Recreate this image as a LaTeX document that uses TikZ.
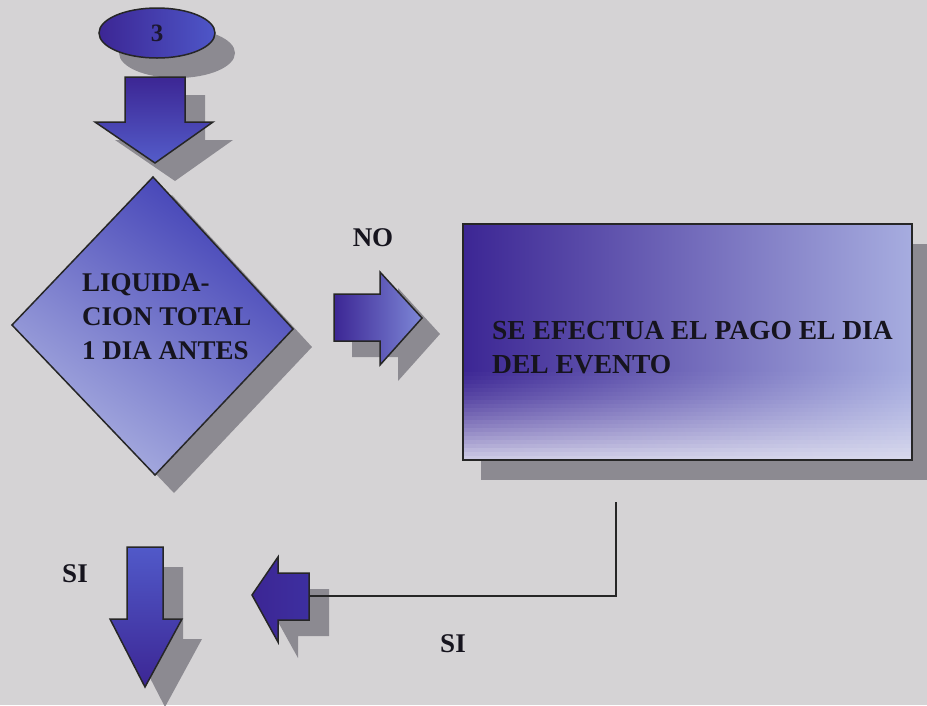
\documentclass[tikz,border=0pt]{standalone}
\usepackage{fontspec}
\setmainfont{Liberation Serif}
\usetikzlibrary{shapes.geometric}
\definecolor{bgc}{RGB}{213,211,213}
\definecolor{dkb}{RGB}{60,38,148}
\definecolor{mdb}{RGB}{66,74,196}
\definecolor{ltb}{RGB}{125,135,215}
\definecolor{pale}{RGB}{208,210,232}
\definecolor{wt}{RGB}{222,222,238}
\definecolor{shc}{RGB}{128,126,134}
\definecolor{txc}{RGB}{22,20,30}
\tikzset{
  outl/.style={draw=black!85, line width=1.5pt, line join=miter},
  shadowfill/.style={fill=shc, opacity=0.85},
  lbl/.style={font=\fontsize{27}{34}\selectfont\bfseries, text=txc, inner sep=0pt},
}
\begin{document}
\begin{tikzpicture}[x=1pt,y=-1pt]
\fill[bgc] (0,0) rectangle (927,705);
\useasboundingbox (0,0) rectangle (927,705);

% ---------- ellipse "3"
\fill[shadowfill] (177,53) ellipse [x radius=58, y radius=25];
\node (start) [ellipse, outl, minimum width=116pt, minimum height=50pt, inner sep=0pt,
  left color=dkb, right color=mdb!80!ltb, font=\fontsize{25}{25}\selectfont\bfseries, text=txc!85!dkb] at (157,33) {3};

% ---------- top down arrow
\fill[shadowfill] (145,95) -- (205,95) -- (205,140) -- (233,140) -- (175,181) -- (115,140) -- (145,140) -- cycle;
\path[outl, top color=dkb, bottom color=mdb!70!ltb] (125,77) -- (185,77) -- (185,122) -- (213,122) -- (155,163) -- (95,122) -- (125,122) -- cycle;

% ---------- diamond
\fill[shadowfill] (172,195) -- (312,347) -- (174,493) -- (31,343) -- cycle;
\path[outl, top color=mdb!70!dkb, middle color=mdb!90!ltb, bottom color=pale!55!ltb, shading angle=-35]
  (153,177) -- (293,329) -- (155,475) -- (12,325) -- cycle;
\node (dtext) [lbl, align=left, anchor=west] at (82,316.5) {LIQUIDA-\\CION TOTAL\\1 DIA ANTES};

% ---------- NO arrow
\node (no) [lbl] at (373,238) {NO};
\fill[shadowfill] (352,310) -- (398,310) -- (398,288) -- (440,334) -- (398,381) -- (398,357) -- (352,357) -- cycle;
\path[outl, left color=dkb, right color=ltb] (334,294) -- (380,294) -- (380,272) -- (422,318) -- (380,365) -- (380,341) -- (334,341) -- cycle;

% ---------- rectangle
\fill[shadowfill] (481,244) rectangle (930,480);
\node (box) [minimum width=449pt, minimum height=236pt, inner sep=0pt] at (687.5,342) {};
\shade[left color=dkb, middle color=dkb!55!mdb, right color=pale!50!ltb]
  (463,224) rectangle (912,368.6);
\foreach \i in {0,...,22}{
  \pgfmathtruncatemacro\m{100-88*(\i/22)^1.4}
  \shade[left color=dkb!\m!wt, middle color=dkb!55!mdb!\m!wt, right color=pale!50!ltb!\m!wt]
    (463,368+4*\i) rectangle (912,372.6+4*\i);
}
\draw[outl] (box.south west) rectangle (box.north east);
\node (btext) [lbl, align=left, anchor=north west, font=\fontsize{27.5}{34}\selectfont\bfseries] at (492,321.5) {SE EFECTUA EL PAGO EL DIA\\DEL EVENTO};

% ---------- bottom-left SI arrow
\node (si1) [lbl] at (75,574) {SI};
\fill[shadowfill] (147,567) -- (183,567) -- (183,639) -- (202,639) -- (165,707) -- (130,639) -- (147,639) -- cycle;
\path[outl, top color=mdb!75!ltb, bottom color=dkb] (127,547) -- (163,547) -- (163,619) -- (182,619) -- (145,687) -- (110,619) -- (127,619) -- cycle;

% ---------- left arrow with connector
\fill[shadowfill] (329,589) -- (298,589) -- (298,573) -- (272,611) -- (298,658) -- (298,636) -- (329,636) -- cycle;
\path[outl, left color=dkb, right color=dkb!75!mdb] (309,573) -- (278,573) -- (278,557) -- (252,595) -- (278,642) -- (278,620) -- (309,620) -- cycle;
\coordinate (la) at (309,596);
\coordinate (cfree) at (616,502);
\draw[black!85, line width=1.6pt] (cfree) |- (la);
\node (si2) [lbl] at (453,644) {SI};
\end{tikzpicture}
\end{document}
